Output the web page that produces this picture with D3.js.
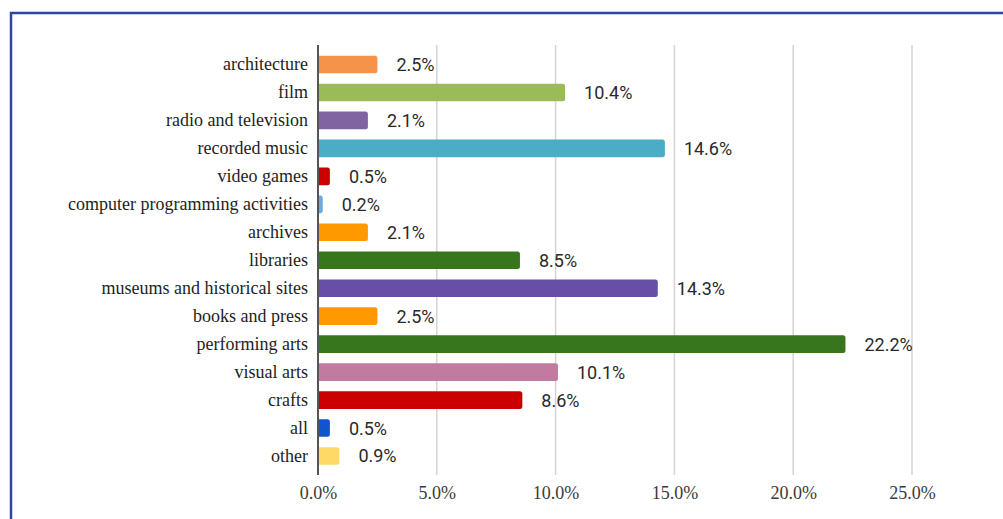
<!DOCTYPE html>
<html>
<head>
<meta charset="utf-8">
<script src="https://cdn.jsdelivr.net/npm/d3@7"></script>
<style>
  html, body { margin: 0; padding: 0; background: #fff; }
  svg { display: block; }
</style>
</head>
<body>
<svg id="chart" width="1003" height="519"></svg>
<script>
// Share of cultural and creative activity by domain (%)
const categories = [
  "architecture", "film", "radio and television", "recorded music",
  "video games", "computer programming activities", "archives", "libraries",
  "museums and historical sites", "books and press", "performing arts",
  "visual arts", "crafts", "all", "other"
];
const values = [2.5, 10.4, 2.1, 14.6, 0.5, 0.2, 2.1, 8.5, 14.3, 2.5, 22.2, 10.1, 8.6, 0.5, 0.9];
const barColors = [
  "#f5934b", "#9bbb59", "#8064a2", "#4bacc6", "#cc0000", "#6fa8dc", "#ff9900",
  "#38761d", "#674ea7", "#ff9900", "#38761d", "#c27ba0", "#cc0000", "#1155cc", "#ffd966"
];
const xTicks = [0, 5, 10, 15, 20, 25];

const svg = d3.select("#chart");

// Blue frame around the chart (open to the right and bottom edge of the page)
svg.append("path")
  .attr("d", "M11,1100 V13 H1100")
  .attr("fill", "none")
  .attr("stroke", "#2c46a2")
  .attr("stroke-width", 2.5);

const x = d3.scaleLinear().domain([0, 25]).range([318, 912]);
const y = d3.scaleBand().domain(categories).range([50.5, 470])
  .paddingInner(0.37).paddingOuter(0.185);

const gridTop = 45, gridBottom = 475;

// Vertical gridlines
svg.append("g")
  .selectAll("line")
  .data(xTicks.filter(d => d > 0))
  .join("line")
  .attr("x1", d => x(d)).attr("x2", d => x(d))
  .attr("y1", gridTop).attr("y2", gridBottom)
  .attr("stroke", "#d4d4d4")
  .attr("stroke-width", 1.5);

// Bottom axis tick labels
const xAxis = d3.axisBottom(x)
  .tickValues(xTicks)
  .tickFormat(d => d.toFixed(1) + "%")
  .tickSize(0)
  .tickPadding(0);
const gx = svg.append("g")
  .attr("transform", `translate(0,${gridBottom})`)
  .call(xAxis);
gx.select(".domain").remove();
gx.selectAll("text")
  .attr("y", 24)
  .attr("dy", 0)
  .attr("font-family", "'Liberation Serif', 'Times New Roman', serif")
  .attr("font-size", 18)
  .attr("fill", "#3a3a3a");

// Bars
svg.append("g")
  .selectAll("path")
  .data(categories)
  .join("path")
  .attr("fill", (d, i) => barColors[i])
  .attr("d", (d, i) => {
    const x0 = x(0), x1 = x(values[i]);
    const y0 = y(d), h = y.bandwidth();
    const r = Math.min(2.5, (x1 - x0) / 2);
    return `M${x0},${y0} H${x1 - r} Q${x1},${y0} ${x1},${y0 + r} V${y0 + h - r} Q${x1},${y0 + h} ${x1 - r},${y0 + h} H${x0} Z`;
  });

// Category axis
const yAxis = d3.axisLeft(y).tickSize(0).tickPadding(10);
const gy = svg.append("g")
  .attr("transform", `translate(${x(0)},0)`)
  .call(yAxis);
gy.select(".domain").remove();
gy.selectAll("text")
  .attr("font-family", "'Liberation Serif', 'Times New Roman', serif")
  .attr("font-size", 18)
  .attr("fill", "#1e1e1e");

// Zero baseline
svg.append("line")
  .attr("x1", x(0)).attr("x2", x(0))
  .attr("y1", gridTop).attr("y2", gridBottom)
  .attr("stroke", "#555")
  .attr("stroke-width", 2);

// Value labels
svg.append("g")
  .selectAll("text")
  .data(categories)
  .join("text")
  .attr("x", (d, i) => x(values[i]) + 19)
  .attr("y", d => y(d) + y.bandwidth() / 2)
  .attr("dy", "0.36em")
  .attr("font-family", "Roboto, 'Noto Sans', sans-serif")
  .attr("font-size", 18)
  .attr("fill", "#2a2a2a")
  .text((d, i) => values[i].toFixed(1) + "%");
</script>
</body>
</html>
